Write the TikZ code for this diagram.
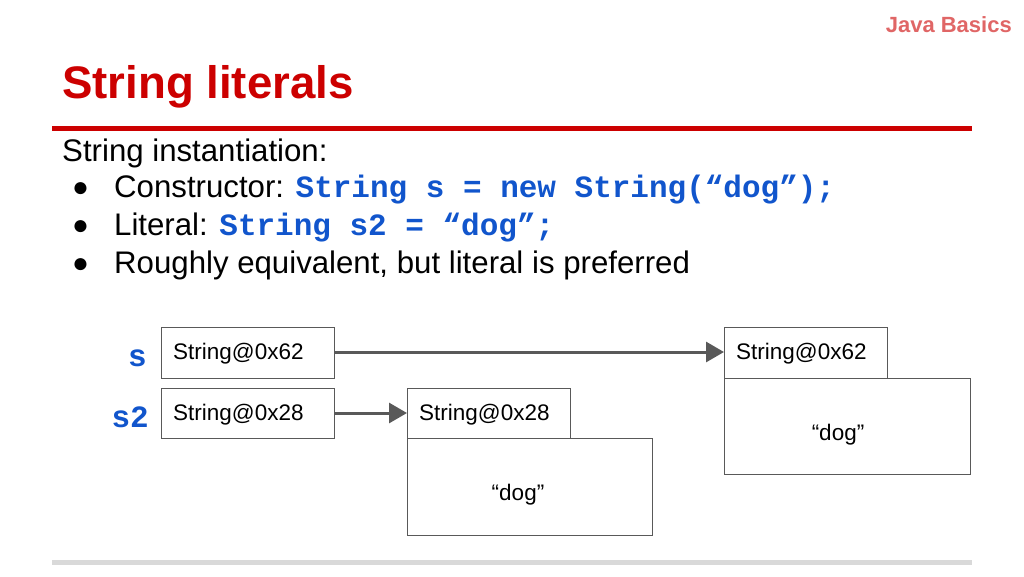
\documentclass[tikz,border=0pt]{standalone}
\usepackage{fontspec}
\setmainfont{Liberation Sans}
\setmonofont{Liberation Mono}
\usetikzlibrary{arrows.meta}
\definecolor{tred}{HTML}{CC0000}
\definecolor{jb}{HTML}{E06666}
\definecolor{cblue}{HTML}{1155CC}
\definecolor{agray}{HTML}{595959}
\definecolor{lgray}{HTML}{D9D9D9}
\tikzset{
  box/.style={draw=agray, line width=1pt, fill=white, inner sep=0pt},
  lbl/.style={anchor=north west, inner sep=0pt, font=\fontsize{22.5}{24}\selectfont},
  code/.style={font=\fontsize{31}{34}\ttfamily\bfseries, text=cblue},
  txt/.style={anchor=base west, inner sep=0pt, font=\fontsize{31.2}{34}\selectfont},
  bul/.style={anchor=base west, inner sep=0pt, font=\fontsize{28}{34}\selectfont},
  arr/.style={draw=agray, line width=3pt, -{Triangle[length=18pt,width=20pt]}},
}
\begin{document}
\begin{tikzpicture}[x=1pt,y=-1pt]
\useasboundingbox (0,0) rectangle (1024,576);
\node[anchor=base east, inner sep=0pt, text=jb, font=\fontsize{22}{24}\selectfont\bfseries] (jb) at (1012,32) {Java Basics};
\node[anchor=base west, inner sep=0pt, text=tred, font=\fontsize{45.6}{50}\selectfont\bfseries] (title) at (62,98) {String literals};
\draw[tred, line width=5pt] (52,128) -- (972,128);
\draw[lgray, line width=5pt] (52,562) -- (972,562);
\node[txt] (l0) at (62,161) {String instantiation:};
\node[bul] (b1) at (72,196) {●};
\node[txt] (l1) at (114,197) {Constructor: \textcolor{cblue}{\fontsize{31}{34}\ttfamily\bfseries String s = new String(“dog”);}};
\node[bul] (b2) at (72,234) {●};
\node[txt] (l2) at (114,235) {Literal: \textcolor{cblue}{\fontsize{31}{34}\ttfamily\bfseries String s2 = “dog”;}};
\node[bul] (b3) at (72,272) {●};
\node[txt] (l3) at (114,273) {Roughly equivalent, but literal is preferred};
% variable boxes
\draw[box] (161,327) rectangle (334,378);
\coordinate (sR) at (334,352);
\node[lbl] (st) at (173,343) {String@0x62};
\draw[box] (161,388) rectangle (334,438);
\coordinate (s2R) at (334,413);
\node[lbl] (s2t) at (173,404) {String@0x28};
\node[code, anchor=base east, inner sep=0pt] (sv) at (147,366) {s};
\node[code, anchor=base east, inner sep=0pt] (s2v) at (149,427) {s2};
% right object
\draw[box] (724,378) rectangle (970,474);
\draw[box] (724,327) rectangle (887,378);
\coordinate (rL) at (724,352);
\node[lbl] (rt) at (736,343) {String@0x62};
\node[font=\fontsize{22.5}{24}\selectfont] (rd) at (838,435) {“dog”};
% middle object
\draw[box] (407,438) rectangle (652,535);
\draw[box] (407,388) rectangle (570,438);
\coordinate (mL) at (407,413);
\node[lbl] (mt) at (419,404) {String@0x28};
\node[font=\fontsize{22.5}{24}\selectfont] (md) at (518,495) {“dog”};
\draw[arr] (sR) -- (rL);
\draw[arr] (s2R) -- (mL);
\end{tikzpicture}
\end{document}
